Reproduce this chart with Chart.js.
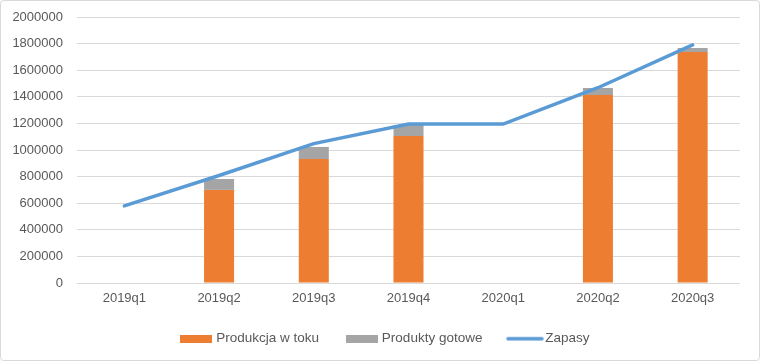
<!DOCTYPE html>
<html>
<head>
<meta charset="utf-8">
<script src="https://cdn.jsdelivr.net/npm/chart.js@4/dist/chart.umd.min.js"></script>
<style>
html,body{margin:0;padding:0;background:#fff;}
#wrap{width:760px;height:361px;position:relative;}
</style>
</head>
<body>
<div id="wrap"><canvas id="c" width="760" height="361"></canvas></div>
<script>
const categories = ['2019q1','2019q2','2019q3','2019q4','2020q1','2020q2','2020q3'];
const produkcjaWToku = [null, 700000, 932000, 1105000, null, 1413000, 1737000];
const produktyGotowe = [null, 82000, 91000, 83000, null, 53000, 30000];
const zapasy = [580000, 808000, 1048000, 1195000, 1195000, 1468000, 1790000];
const yTicks = [0,200000,400000,600000,800000,1000000,1200000,1400000,1600000,1800000,2000000];

const seriesColors = ['#ED7D31', '#A5A5A5', '#5B9BD5'];

const font = {family: '"Liberation Sans", Arial, sans-serif', size: 13};
const legendFont = {family: '"Liberation Sans", Arial, sans-serif', size: 13.5};
Chart.defaults.font = font;
Chart.defaults.color = '#595959';

function swatch(color, isLine) {
  const c = document.createElement('canvas');
  const ctx = c.getContext('2d');
  if (isLine) {
    c.width = 38; c.height = 6;
    ctx.strokeStyle = color; ctx.lineWidth = 3.5; ctx.lineCap = 'round';
    ctx.beginPath(); ctx.moveTo(2, 3); ctx.lineTo(36, 3); ctx.stroke();
  } else {
    c.width = 32; c.height = 8;
    ctx.fillStyle = color; ctx.fillRect(0, 0, 32, 8);
  }
  return c;
}

const framePlugin = {
  id: 'frame',
  beforeLayout(chart) {
    const lg = chart.legend;
    if (lg && !lg._patched) {
      const orig = lg.fit;
      lg.fit = function() { orig.call(this); this.height = 54; };
      lg._patched = true;
    }
  },
  afterLayout(chart) {
    const lg = chart.legend;
    if (lg) { lg.left += 16; lg.right += 16; lg.top -= 4; lg.bottom -= 4; }
  },
  beforeDraw(chart) {
    const ctx = chart.ctx;
    ctx.save();
    ctx.fillStyle = '#fff';
    ctx.fillRect(0,0,chart.width,chart.height);
    ctx.strokeStyle = '#d9d9d9';
    ctx.lineWidth = 1;
    ctx.beginPath();
    ctx.roundRect(0.5,0.5,chart.width-1,chart.height-1,3);
    ctx.stroke();
    ctx.restore();
  }
};

new Chart(document.getElementById('c'), {
  type: 'bar',
  data: {
    labels: categories,
    datasets: [
      {label: 'Produkcja w toku', data: produkcjaWToku, backgroundColor: seriesColors[0], borderWidth: 0, stack: 's', order: 1},
      {label: 'Produkty gotowe', data: produktyGotowe, backgroundColor: seriesColors[1], borderWidth: 0, stack: 's', order: 1},
      {label: 'Zapasy', type: 'line', data: zapasy, borderColor: seriesColors[2], backgroundColor: seriesColors[2], borderWidth: 3.5, borderCapStyle: 'round', pointRadius: 0, tension: 0, order: 0}
    ]
  },
  options: {
    responsive: false,
    animation: false,
    devicePixelRatio: 1,
    layout: {padding: {top: 17, right: 20, left: 0, bottom: 0}},
    datasets: {bar: {categoryPercentage: 1, barPercentage: 0.317}},
    scales: {
      x: {
        stacked: true,
        grid: {display: false, drawTicks: false},
        border: {display: false},
        ticks: {padding: 8, color: '#595959', font: font},
        afterFit(scale) { scale.height = 24; }
      },
      y: {
        stacked: true,
        min: 0, max: 2000000,
        afterBuildTicks(scale) { scale.ticks = yTicks.map(v => ({value: v})); },
        afterFit(scale) { scale.width = 77; scale.paddingTop = 0; scale.paddingBottom = 0; },
        grid: {color: '#d9d9d9', drawTicks: false, lineWidth: 1},
        border: {display: false},
        ticks: {padding: 14, color: '#595959', font: font, callback: v => String(v)}
      }
    },
    plugins: {
      tooltip: {enabled: false},
      legend: {
        position: 'bottom',
        labels: {
          usePointStyle: true,
          pointStyleWidth: 27,
          boxHeight: 8,
          padding: 29,
          color: '#595959',
          font: legendFont,
          sort: (a, b) => a.datasetIndex - b.datasetIndex,
          generateLabels(chart) {
            const items = Chart.defaults.plugins.legend.labels.generateLabels(chart);
            items.forEach(it => {
              it.pointStyle = swatch(seriesColors[it.datasetIndex], it.datasetIndex === 2);
              it.lineWidth = 0;
            });
            return items;
          }
        }
      }
    }
  },
  plugins: [framePlugin]
});
</script>
</body>
</html>
